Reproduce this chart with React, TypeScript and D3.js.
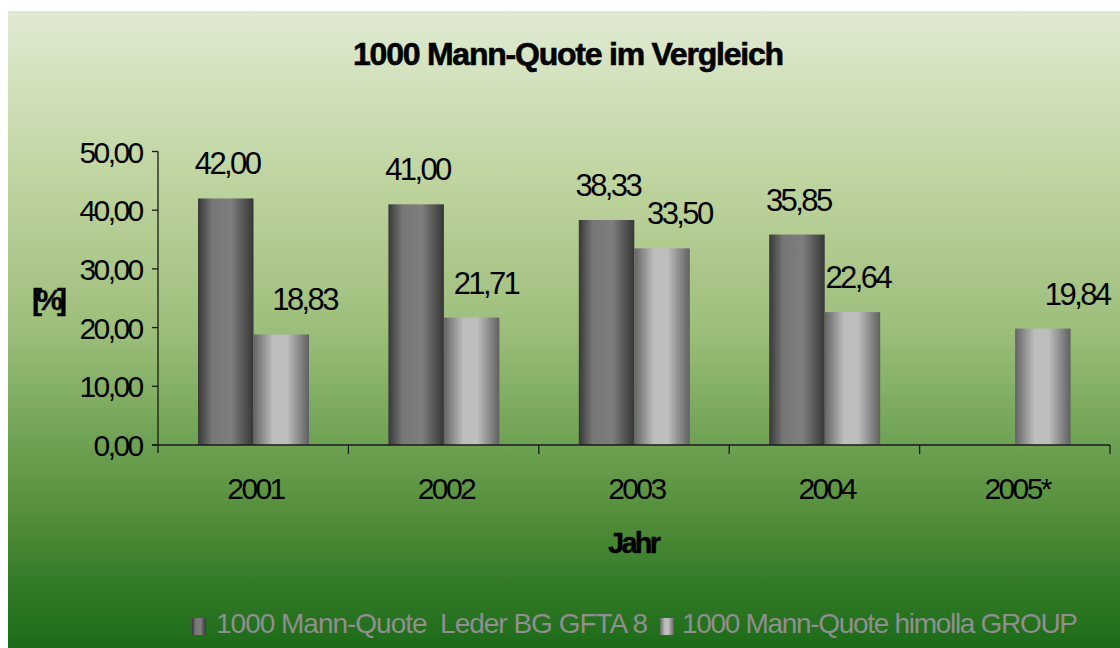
import React from "react";
import * as d3 from "d3";

const years = ["2001", "2002", "2003", "2004", "2005*"];
const lederValues: (number | null)[] = [42.0, 41.0, 38.33, 35.85, null];
const himollaValues: (number | null)[] = [18.83, 21.71, 33.5, 22.64, 19.84];
const seriesNames = ["1000 Mann-Quote  Leder BG GFTA 8", "1000 Mann-Quote himolla GROUP"];
const yTicks = [0, 10, 20, 30, 40, 50];

// the labels of the light series sit a little to the right of their bars
const himollaLabelDx = [22, 13, 16, 4, 33];

const W = 1120;
const H = 648;
const plot = { left: 158, right: 1110, top: 151.5, bottom: 445 };
const LS = -2.6;

const de = d3.formatLocale({ decimal: ",", thousands: ".", grouping: [3], currency: ["", " €"] });
const fmt = de.format(".2f");

export default function App() {
  const x0 = d3.scaleBand().domain(years).range([plot.left, plot.right]);
  const x1 = d3.scaleBand().domain(["leder", "himolla"]).range([40, 151]);
  const y = d3.scaleLinear().domain([0, 50]).range([plot.bottom, plot.top]);

  const series = [
    { key: "leder", values: lederValues, fill: "url(#darkBar)", dx: lederValues.map(() => 0) },
    { key: "himolla", values: himollaValues, fill: "url(#lightBar)", dx: himollaLabelDx },
  ];

  const font = "'Liberation Sans', Arial, sans-serif";

  return (
    <svg width={W} height={H} style={{ position: "absolute", left: 0, top: 0 }} fontFamily={font}>
      <defs>
        <linearGradient id="bg" x1="0" y1="0" x2="0" y2="1">
          <stop offset="0%" stopColor="#e0ead2" />
          <stop offset="28%" stopColor="#bdd39d" />
          <stop offset="50%" stopColor="#9dbe7b" />
          <stop offset="68%" stopColor="#6ea153" />
          <stop offset="78%" stopColor="#57913d" />
          <stop offset="89%" stopColor="#367c2a" />
          <stop offset="100%" stopColor="#1c6b18" />
        </linearGradient>
        <linearGradient id="darkBar" x1="0" y1="0" x2="1" y2="0">
          <stop offset="0%" stopColor="#383838" />
          <stop offset="25%" stopColor="#767676" />
          <stop offset="60%" stopColor="#7e7e7e" />
          <stop offset="100%" stopColor="#363636" />
        </linearGradient>
        <linearGradient id="lightBar" x1="0" y1="0" x2="1" y2="0">
          <stop offset="0%" stopColor="#646464" />
          <stop offset="35%" stopColor="#bdbdbd" />
          <stop offset="60%" stopColor="#bebebe" />
          <stop offset="100%" stopColor="#606060" />
        </linearGradient>
      </defs>

      <rect x={0} y={0} width={W} height={H} fill="#ffffff" />
      <rect x={8} y={11} width={W - 8} height={H - 11} fill="url(#bg)" />

      <text
        x={353}
        y={65}
        fontSize={32}
        fontWeight="bold"
        stroke="#000"
        strokeWidth={0.6}
        textLength={431}
        lengthAdjust="spacing"
      >
        1000 Mann-Quote im Vergleich
      </text>

      {/* bars */}
      {series.map((s) =>
        s.values.map((v, i) =>
          v == null ? null : (
            <rect
              key={s.key + i}
              x={(x0(years[i]) as number) + (x1(s.key) as number)}
              y={y(v)}
              width={x1.bandwidth()}
              height={y(0) - y(v)}
              fill={s.fill}
            />
          )
        )
      )}

      {/* value labels */}
      {series.map((s) =>
        s.values.map((v, i) =>
          v == null ? null : (
            <text
              key={"l" + s.key + i}
              x={(x0(years[i]) as number) + (x1(s.key) as number) + x1.bandwidth() / 2 + s.dx[i] - LS / 2}
              y={y(v) - 24}
              textAnchor="middle"
              fontSize={31}
              letterSpacing={LS}
              fill="#000"
            >
              {fmt(v)}
            </text>
          )
        )
      )}

      {/* y axis */}
      <line x1={plot.left} x2={plot.left} y1={y(50)} y2={plot.bottom + 8} stroke="#1a1a1a" strokeWidth={1.3} />
      {yTicks.map((t) => (
        <g key={t}>
          <line x1={plot.left - 6} x2={plot.left} y1={y(t)} y2={y(t)} stroke="#1a1a1a" strokeWidth={1.3} />
          <text x={plot.left - 19 - LS} y={y(t) + 11} textAnchor="end" fontSize={30} letterSpacing={LS} fill="#000">
            {fmt(t)}
          </text>
        </g>
      ))}
      <text x={32} y={310} fontSize={30} fontWeight="bold" stroke="#000" strokeWidth={0.4} textLength={35} lengthAdjust="spacing">
        [%]
      </text>

      {/* x axis */}
      <line x1={plot.left - 6} x2={plot.right} y1={plot.bottom} y2={plot.bottom} stroke="#1a1a1a" strokeWidth={1.3} />
      {years.map((yr) => {
        const xs = (x0(yr) as number) + x0.bandwidth();
        return <line key={"t" + yr} x1={xs} x2={xs} y1={plot.bottom} y2={plot.bottom + 9} stroke="#1a1a1a" strokeWidth={1.3} />;
      })}
      {years.map((yr) => (
        <text
          key={"c" + yr}
          x={(x0(yr) as number) + x0.bandwidth() / 2 + 1 - LS / 2}
          y={498.5}
          textAnchor="middle"
          fontSize={30}
          letterSpacing={LS}
          fill="#000"
        >
          {yr}
        </text>
      ))}
      <text x={608} y={553} fontSize={29} fontWeight="bold" stroke="#000" strokeWidth={0.4} textLength={53} lengthAdjust="spacing">
        Jahr
      </text>

      {/* legend */}
      <rect x={192} y={618} width={14} height={17} fill="url(#darkBar)" />
      <text x={216} y={633} fontSize={28} fill="#8f8f8f" textLength={432} lengthAdjust="spacing" style={{ whiteSpace: "pre" }}>
        {seriesNames[0]}
      </text>
      <rect x={660} y={618} width={14} height={17} fill="url(#lightBar)" />
      <text x={682} y={633} fontSize={28} fill="#8f8f8f" textLength={396} lengthAdjust="spacing">
        {seriesNames[1]}
      </text>
    </svg>
  );
}
